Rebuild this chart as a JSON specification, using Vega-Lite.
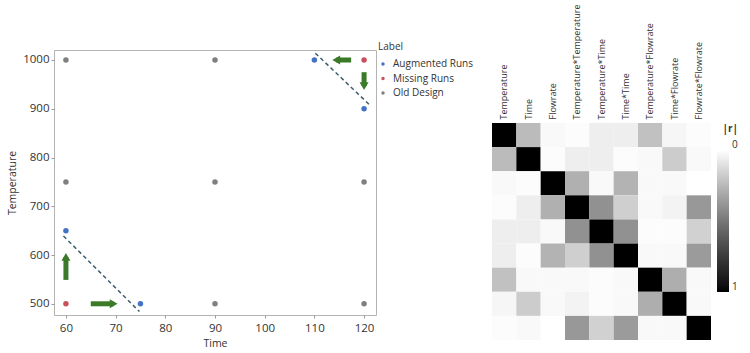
{
  "$schema": "https://vega.github.io/schema/vega-lite/v6.json",
  "padding": {"left": 7, "top": 3, "right": 0, "bottom": 0},
  "spacing": 18,
  "background": "white",
  "config": {
    "font": "Open Sans",
    "view": {"stroke": null},
    "axis": {"labelColor": "#333333", "titleColor": "#333333", "titleFontWeight": "normal"},
    "legend": {"labelColor": "#333333", "titleColor": "#333333", "padding": 0}
  },
  "datasets": {
    "pts": [
      {"Time": 60, "Temperature": 1000, "Label": "Old Design"},
      {"Time": 90, "Temperature": 1000, "Label": "Old Design"},
      {"Time": 60, "Temperature": 750, "Label": "Old Design"},
      {"Time": 90, "Temperature": 750, "Label": "Old Design"},
      {"Time": 120, "Temperature": 750, "Label": "Old Design"},
      {"Time": 90, "Temperature": 500, "Label": "Old Design"},
      {"Time": 120, "Temperature": 500, "Label": "Old Design"},
      {"Time": 120, "Temperature": 1000, "Label": "Missing Runs"},
      {"Time": 60, "Temperature": 500, "Label": "Missing Runs"},
      {"Time": 110, "Temperature": 1000, "Label": "Augmented Runs"},
      {"Time": 120, "Temperature": 900, "Label": "Augmented Runs"},
      {"Time": 60, "Temperature": 650, "Label": "Augmented Runs"},
      {"Time": 75, "Temperature": 500, "Label": "Augmented Runs"}
    ],
    "lines": [
      {"x1": 110.2, "y1": 1014, "x2": 121, "y2": 909},
      {"x1": 59.5, "y1": 639, "x2": 74.8, "y2": 484}
    ],
    "arrows": [
      {"x": 65.0, "y": 500, "hx": 69.6, "hy": 500, "dir": "right"},
      {"x": 60, "y": 549, "hx": 60, "hy": 596, "dir": "up"},
      {"x": 117.4, "y": 1000, "hx": 114.4, "hy": 1000, "dir": "left"},
      {"x": 120, "y": 975, "hx": 120, "hy": 946.5, "dir": "down"}
    ],
    "corr": [
      {"row": "Temperature", "Temperature": 1, "Time": 0.24, "Flowrate": 0.02, "Temperature*Temperature": 0.01, "Temperature*Time": 0.06, "Time*Time": 0.06, "Temperature*Flowrate": 0.22, "Time*Flowrate": 0.03, "Flowrate*Flowrate": 0.01},
      {"row": "Time", "Temperature": 0.24, "Time": 1, "Flowrate": 0.01, "Temperature*Temperature": 0.06, "Temperature*Time": 0.06, "Time*Time": 0.01, "Temperature*Flowrate": 0.02, "Time*Flowrate": 0.18, "Flowrate*Flowrate": 0.02},
      {"row": "Flowrate", "Temperature": 0.02, "Time": 0.01, "Flowrate": 1, "Temperature*Temperature": 0.28, "Temperature*Time": 0.02, "Time*Time": 0.27, "Temperature*Flowrate": 0.02, "Time*Flowrate": 0.02, "Flowrate*Flowrate": 0.0},
      {"row": "Temperature*Temperature", "Temperature": 0.01, "Time": 0.06, "Flowrate": 0.28, "Temperature*Temperature": 1, "Temperature*Time": 0.4, "Time*Time": 0.17, "Temperature*Flowrate": 0.02, "Time*Flowrate": 0.04, "Flowrate*Flowrate": 0.37},
      {"row": "Temperature*Time", "Temperature": 0.06, "Time": 0.06, "Flowrate": 0.02, "Temperature*Temperature": 0.4, "Temperature*Time": 1, "Time*Time": 0.4, "Temperature*Flowrate": 0.01, "Time*Flowrate": 0.01, "Flowrate*Flowrate": 0.16},
      {"row": "Time*Time", "Temperature": 0.06, "Time": 0.01, "Flowrate": 0.27, "Temperature*Temperature": 0.17, "Temperature*Time": 0.4, "Time*Time": 1, "Temperature*Flowrate": 0.02, "Time*Flowrate": 0.02, "Flowrate*Flowrate": 0.36},
      {"row": "Temperature*Flowrate", "Temperature": 0.22, "Time": 0.02, "Flowrate": 0.02, "Temperature*Temperature": 0.02, "Temperature*Time": 0.01, "Time*Time": 0.02, "Temperature*Flowrate": 1, "Time*Flowrate": 0.29, "Flowrate*Flowrate": 0.02},
      {"row": "Time*Flowrate", "Temperature": 0.03, "Time": 0.18, "Flowrate": 0.02, "Temperature*Temperature": 0.04, "Temperature*Time": 0.01, "Time*Time": 0.02, "Temperature*Flowrate": 0.29, "Time*Flowrate": 1, "Flowrate*Flowrate": 0.02},
      {"row": "Flowrate*Flowrate", "Temperature": 0.01, "Time": 0.02, "Flowrate": 0.0, "Temperature*Temperature": 0.37, "Temperature*Time": 0.16, "Time*Time": 0.36, "Temperature*Flowrate": 0.02, "Time*Flowrate": 0.02, "Flowrate*Flowrate": 1}
    ]
  },
  "hconcat": [
    {
      "width": 322,
      "height": 265,
      "view": {"stroke": "#b4b4b4", "strokeWidth": 1},
      "layer": [
        {
          "data": {"name": "lines"},
          "mark": {"type": "rule", "strokeDash": [4, 3], "color": "#3d5e6e", "strokeWidth": 1.5},
          "encoding": {
            "x": {"field": "x1", "type": "quantitative", "scale": {"domain": [57.6, 122.4], "nice": false, "zero": false}},
            "y": {"field": "y1", "type": "quantitative", "scale": {"domain": [477, 1020.5], "nice": false, "zero": false}},
            "x2": {"field": "x2"},
            "y2": {"field": "y2"}
          }
        },
        {
          "data": {"name": "arrows"},
          "mark": {"type": "rule", "color": "#3a7a28", "strokeWidth": 5},
          "encoding": {
            "x": {"field": "x", "type": "quantitative", "scale": {"domain": [57.6, 122.4], "nice": false, "zero": false}},
            "y": {"field": "y", "type": "quantitative", "scale": {"domain": [477, 1020.5], "nice": false, "zero": false}},
            "x2": {"field": "hx"},
            "y2": {"field": "hy"}
          }
        },
        {
          "data": {"name": "arrows"},
          "mark": {"type": "point", "filled": true, "color": "#3a7a28", "size": 81, "opacity": 1},
          "encoding": {
            "x": {"field": "hx", "type": "quantitative", "scale": {"domain": [57.6, 122.4], "nice": false, "zero": false}},
            "y": {"field": "hy", "type": "quantitative", "scale": {"domain": [477, 1020.5], "nice": false, "zero": false}},
            "shape": {"field": "dir", "type": "nominal", "scale": {"domain": ["right", "up", "left", "down"], "range": ["triangle-right", "triangle-up", "triangle-left", "triangle-down"]}, "legend": null}
          }
        },
        {
          "data": {"name": "pts"},
          "mark": {"type": "circle", "size": 30, "opacity": 1},
          "encoding": {
            "x": {"field": "Time", "type": "quantitative", "scale": {"domain": [57.6, 122.4], "nice": false, "zero": false},
              "axis": {"title": "Time", "values": [60, 70, 80, 90, 100, 110, 120], "format": "d", "grid": false, "domain": false, "tickSize": 3, "tickColor": "#9a9a9a", "labelPadding": 4, "labelFontSize": 11.5, "titleFontSize": 10.5, "titlePadding": 5}},
            "y": {"field": "Temperature", "type": "quantitative", "scale": {"domain": [477, 1020.5], "nice": false, "zero": false},
              "axis": {"title": "Temperature", "values": [500, 600, 700, 800, 900, 1000], "format": "d", "grid": false, "domain": false, "tickSize": 3, "tickColor": "#9a9a9a", "labelPadding": 2, "labelFontSize": 11.5, "titleFontSize": 10.5, "titlePadding": 5}},
            "color": {"field": "Label", "type": "nominal",
              "scale": {"domain": ["Augmented Runs", "Missing Runs", "Old Design"], "range": ["#4472c4", "#c9505f", "#7f7f7f"]},
              "legend": {"title": "Label", "orient": "none", "legendX": 324, "legendY": -8, "symbolType": "circle", "symbolSize": 12, "labelFontSize": 10, "titleFontSize": 10, "titleFontWeight": "normal", "titlePadding": 7, "rowPadding": 4.5, "labelOffset": 5}}
          }
        }
      ]
    },
    {
      "width": 219,
      "height": 290,
      "data": {"name": "corr"},
      "transform": [
        {"fold": ["Temperature", "Time", "Flowrate", "Temperature*Temperature", "Temperature*Time", "Time*Time", "Temperature*Flowrate", "Time*Flowrate", "Flowrate*Flowrate"], "as": ["col", "r"]}
      ],
      "mark": {"type": "rect"},
      "encoding": {
        "x": {"field": "col", "type": "nominal",
          "sort": ["Temperature", "Time", "Flowrate", "Temperature*Temperature", "Temperature*Time", "Time*Time", "Temperature*Flowrate", "Time*Flowrate", "Flowrate*Flowrate"],
          "scale": {"paddingInner": 0, "paddingOuter": 0},
          "axis": {"orient": "top", "offset": -73, "title": null, "labelAngle": -90, "ticks": false, "domain": false, "labelPadding": 4, "labelFontSize": 9, "labelAlign": "left", "labelBaseline": "middle"}},
        "y": {"field": "row", "type": "nominal",
          "sort": ["Temperature", "Time", "Flowrate", "Temperature*Temperature", "Temperature*Time", "Time*Time", "Temperature*Flowrate", "Time*Flowrate", "Flowrate*Flowrate"],
          "scale": {"paddingInner": 0, "paddingOuter": 0, "range": [73, 290]},
          "axis": null},
        "color": {"field": "r", "type": "quantitative",
          "scale": {"domain": [1, 0], "range": ["black", "white"]},
          "legend": {"title": "|r|", "orient": "none", "legendX": 225, "legendY": 74, "direction": "vertical", "gradientLength": 142, "gradientThickness": 12, "values": [0, 1], "format": "d", "labelBaseline": "bottom", "labelOffset": 3, "labelFontSize": 10, "titleFontSize": 10, "titleFontWeight": "bold", "titleAnchor": "end", "titlePadding": 16, "gradientStrokeWidth": 0,
            "encode": {"labels": {"update": {"baseline": {"value": "bottom"}}}}}}
      }
    }
  ]
}
